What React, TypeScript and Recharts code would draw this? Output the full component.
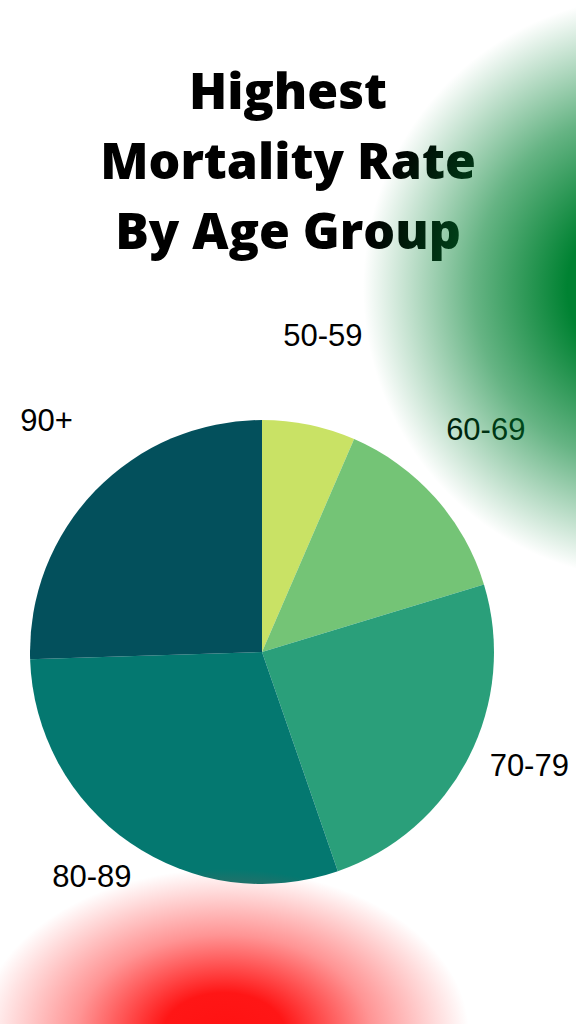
import { PieChart, Pie, Cell } from "recharts";

const AGE_GROUPS = ["50-59", "60-69", "70-79", "80-89", "90+"];
const MORTALITY_SHARE = [6.5, 13.8, 24.4, 29.8, 25.5];
const SLICE_COLORS = ["#c9e265", "#74c476", "#2a9f7a", "#047870", "#03505c"];
const TITLE_LINES = ["Highest", "Mortality Rate", "By Age Group"];

const RAD = Math.PI / 180;

const pieData = AGE_GROUPS.map((name, i) => ({ name, value: MORTALITY_SHARE[i] }));

// labels sit on a ring around the pie, nudged up a bit
const renderLabel = (props: any) => {
  const { cx, cy, midAngle, index } = props;
  const r = 300;
  const x = cx + r * Math.cos(-midAngle * RAD);
  const y = cy + r * Math.sin(-midAngle * RAD) - 12;
  return (
    <text
      x={x}
      y={y}
      textAnchor="middle"
      fill="#000"
      fontSize={31}
      fontFamily="'Liberation Sans', Arial, sans-serif"
    >
      {AGE_GROUPS[index]}
    </text>
  );
};

export default function App() {
  return (
    <div
      style={{
        position: "absolute",
        left: 0,
        top: 0,
        width: 576,
        height: 1024,
        overflow: "hidden",
        background: "#fff",
      }}
    >
      <div
        style={{
          position: "absolute",
          left: 0,
          top: 55,
          width: 576,
          textAlign: "center",
          fontFamily: "'Open Sans', sans-serif",
          fontWeight: 800,
          fontSize: 50,
          lineHeight: "70px",
          color: "#000",
        }}
      >
        {TITLE_LINES.map((t) => (
          <div key={t}>{t}</div>
        ))}
      </div>

      <div style={{ position: "absolute", left: 0, top: 0 }}>
        <PieChart width={576} height={1024} margin={{ top: 0, right: 0, bottom: 0, left: 0 }}>
          <Pie
            data={pieData}
            dataKey="value"
            nameKey="name"
            cx={262}
            cy={652}
            outerRadius={232}
            startAngle={90}
            endAngle={-270}
            stroke="none"
            label={renderLabel}
            labelLine={false}
            isAnimationActive={false}
          >
            {pieData.map((d, i) => (
              <Cell key={d.name} fill={SLICE_COLORS[i]} stroke="none" />
            ))}
          </Pie>
        </PieChart>
      </div>

      {/* decorative glows on top */}
      <div
        style={{
          position: "absolute",
          left: 0,
          top: 0,
          width: 576,
          height: 1024,
          pointerEvents: "none",
          background:
            "radial-gradient(circle 292px at 655px 288px, rgba(0,130,50,1) 0%, rgba(0,130,50,1) 30%, rgba(0,130,50,0.6) 62%, rgba(0,130,50,0) 100%)",
        }}
      />
      <div
        style={{
          position: "absolute",
          left: 0,
          top: 0,
          width: 576,
          height: 1024,
          pointerEvents: "none",
          background:
            "radial-gradient(245px 165px at 224px 1034px, rgba(255,18,18,1) 0%, rgba(255,22,22,1) 25%, rgba(255,60,60,0.55) 60%, rgba(255,90,90,0) 100%)",
        }}
      />
    </div>
  );
}
